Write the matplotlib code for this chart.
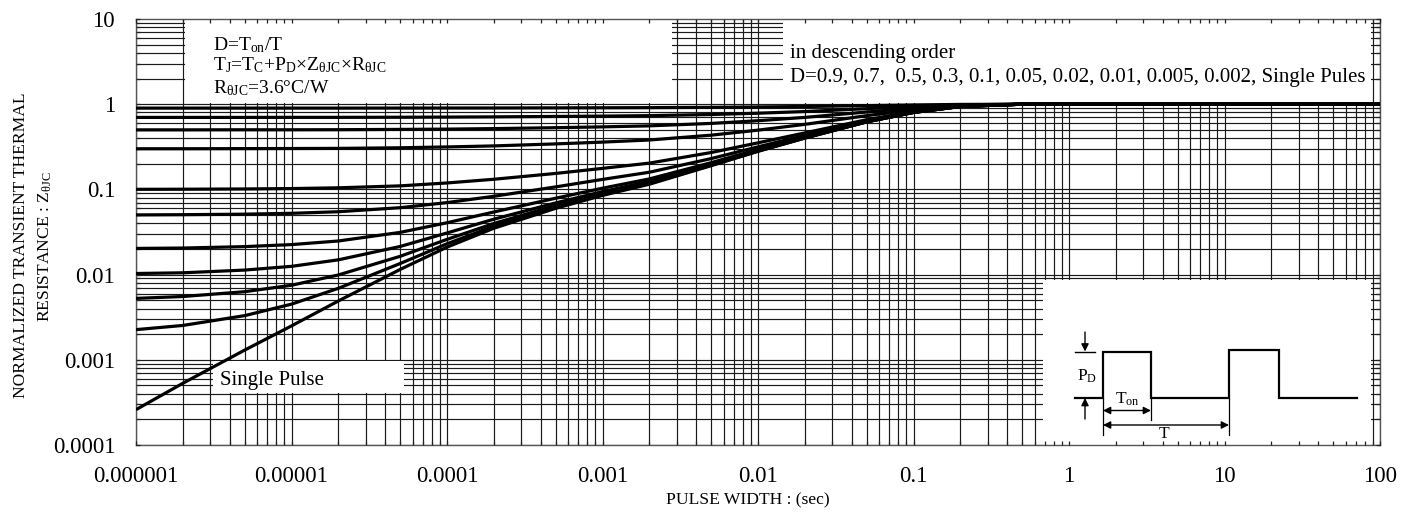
import matplotlib
matplotlib.use("Agg")
import matplotlib.pyplot as plt
from matplotlib.patches import Rectangle
from matplotlib.ticker import FixedLocator, FixedFormatter, NullFormatter

plt.rcParams['font.family'] = ['Liberation Serif', 'DejaVu Serif']
plt.rcParams['mathtext.fontset'] = 'custom'
plt.rcParams['mathtext.rm'] = 'Liberation Serif'
plt.rcParams['mathtext.it'] = 'Liberation Serif:italic'
plt.rcParams['mathtext.bf'] = 'Liberation Serif:bold'

# ---- data -------------------------------------------------------------
pulse_width = [1e-6, 2e-6, 5e-6, 1e-5, 2e-5, 5e-5, 1e-4, 2e-4, 5e-4, 1e-3,
               2e-3, 5e-3, 1e-2, 2e-2, 5e-2, 0.1, 0.2, 0.5, 1, 10, 100]

z_d090 = [0.900, 0.900, 0.900, 0.900, 0.900, 0.901, 0.902, 0.903, 0.906, 0.908,
          0.911, 0.919, 0.928, 0.940, 0.962, 0.980, 0.994, 1.0, 1.0, 1.0, 1.0]
z_d070 = [0.700, 0.700, 0.700, 0.701, 0.701, 0.703, 0.706, 0.710, 0.718, 0.725,
          0.734, 0.757, 0.784, 0.820, 0.886, 0.940, 0.982, 1.0, 1.0, 1.0, 1.0]
z_d050 = [0.500, 0.500, 0.501, 0.501, 0.502, 0.506, 0.510, 0.517, 0.530, 0.542,
          0.557, 0.595, 0.640, 0.700, 0.810, 0.900, 0.970, 1.0, 1.0, 1.0, 1.0]
z_d030 = [0.300, 0.300, 0.301, 0.302, 0.303, 0.308, 0.315, 0.324, 0.342, 0.359,
          0.380, 0.433, 0.496, 0.580, 0.734, 0.860, 0.958, 1.0, 1.0, 1.0, 1.0]
z_d010 = [0.1002, 0.1005, 0.1012, 0.1023, 0.1044, 0.110, 0.119, 0.1315, 0.154, 0.1765,
          0.2035, 0.271, 0.352, 0.460, 0.658, 0.820, 0.946, 1.0, 1.0, 1.0, 1.0]
z_d005 = [0.0502, 0.0505, 0.0512, 0.0524, 0.0547, 0.061, 0.070, 0.083, 0.107, 0.131,
          0.159, 0.230, 0.316, 0.430, 0.639, 0.810, 0.943, 1.0, 1.0, 1.0, 1.0]
z_d002 = [0.0203, 0.0205, 0.0213, 0.0225, 0.0248, 0.0313, 0.0406, 0.0543, 0.0788, 0.1033,
          0.1327, 0.206, 0.294, 0.412, 0.628, 0.804, 0.941, 1.0, 1.0, 1.0, 1.0]
z_d001 = [0.0103, 0.0105, 0.0113, 0.0125, 0.0149, 0.0214, 0.0308, 0.0447, 0.0694, 0.0942,
          0.1239, 0.198, 0.287, 0.406, 0.624, 0.802, 0.940, 1.0, 1.0, 1.0, 1.0]
z_d0005 = [0.00526, 0.00553, 0.0063, 0.0075, 0.0099, 0.0164, 0.0259, 0.0398, 0.0647, 0.0896,
           0.1194, 0.194, 0.284, 0.403, 0.622, 0.801, 0.940, 1.0, 1.0, 1.0, 1.0]
z_d0002 = [0.00226, 0.00253, 0.0033, 0.0045, 0.0069, 0.0135, 0.0230, 0.0370, 0.0620, 0.0870,
           0.1170, 0.192, 0.281, 0.401, 0.621, 0.800, 0.940, 1.0, 1.0, 1.0, 1.0]
z_single = [0.00026, 0.00053, 0.0013, 0.0025, 0.0049, 0.0115, 0.021, 0.035, 0.060, 0.085,
            0.115, 0.190, 0.280, 0.400, 0.620, 0.800, 0.940, 1.0, 1.0, 1.0, 1.0]

curves = [z_d090, z_d070, z_d050, z_d030, z_d010, z_d005,
          z_d002, z_d001, z_d0005, z_d0002, z_single]

x_ticks = [1e-6, 1e-5, 1e-4, 1e-3, 1e-2, 1e-1, 1, 10, 100]
x_tick_labels = ['0.000001', '0.00001', '0.0001', '0.001', '0.01', '0.1', '1', '10', '100']
y_ticks = [1e-4, 1e-3, 1e-2, 1e-1, 1, 10]
y_tick_labels = ['0.0001', '0.001', '0.01', '0.1', '1', '10']

# ---- figure -----------------------------------------------------------
W, H = 1416, 527
fig = plt.figure(figsize=(W / 100, H / 100), dpi=100)
ax = fig.add_axes([136 / W, 1 - 445 / H, (1380 - 136) / W, (445 - 19) / H])
ax.set_xscale('log')
ax.set_yscale('log')
ax.set_xlim(1e-6, 100)
ax.set_ylim(1e-4, 10)

# log grid (1..9 per decade)
grid_kw = dict(color='#1a1a1a', lw=0.85, zorder=0.5)
for e in range(-6, 2):
    for m in range(1, 10):
        ax.axvline(m * 10.0 ** e, **grid_kw)
ax.axvline(100, **grid_kw)
for e in range(-4, 1):
    for m in range(1, 10):
        ax.axhline(m * 10.0 ** e, **grid_kw)

# blank panels holding the notes
box_kw = dict(facecolor='white', edgecolor='none', zorder=1)
ax.add_patch(Rectangle((2.06e-6, 1.035), 2.8e-3 - 2.06e-6, 10 - 1.035, **box_kw))
ax.add_patch(Rectangle((1.45e-2, 1.035), 88 - 1.45e-2, 10 - 1.035, **box_kw))
ax.add_patch(Rectangle((0.68, 1e-4), 88 - 0.68, 0.00865 - 1e-4, **box_kw))
ax.add_patch(Rectangle((3.13e-6, 0.00041), 5.3e-5 - 3.13e-6, 0.00098 - 0.00041, **box_kw))

for z in curves:
    ax.plot(pulse_width, z, color='black', lw=2.3, solid_joinstyle='round',
            solid_capstyle='butt', zorder=3)

ax.set_axisbelow(False)
ax.xaxis.set_major_locator(FixedLocator(x_ticks))
ax.xaxis.set_major_formatter(FixedFormatter(x_tick_labels))
ax.yaxis.set_major_locator(FixedLocator(y_ticks))
ax.yaxis.set_major_formatter(FixedFormatter(y_tick_labels))
ax.xaxis.set_minor_formatter(NullFormatter())
ax.yaxis.set_minor_formatter(NullFormatter())
ax.tick_params(which='both', direction='in', top=True, right=True,
               length=3, width=0.9, color='#222222')
ax.tick_params(which='major', labelsize=16.5, pad=15)
for s in ax.spines.values():
    s.set_color('#555555')
    s.set_linewidth(1.0)

# notes
ax.text(3.13e-6, 4.33, r'D=T$_{\mathrm{on}}$/T', fontsize=14, zorder=4)
ax.text(3.13e-6, 2.47,
        r'T$_{\mathrm{J}}$=T$_{\mathrm{C}}$+P$_{\mathrm{D}}$×Z$_{\mathrm{θJC}}$×R$_{\mathrm{θJC}}$',
        fontsize=14, zorder=4)
ax.text(3.13e-6, 1.34, r'R$_{\mathrm{θJC}}$=3.6°C/W', fontsize=14, zorder=4)
ax.text(1.61e-2, 3.49, 'in descending order', fontsize=15, zorder=4)
ax.text(1.61e-2, 1.84,
        'D=0.9, 0.7,  0.5, 0.3, 0.1, 0.05, 0.02, 0.01, 0.005, 0.002, Single Pules',
        fontsize=15, zorder=4)
ax.text(3.47e-6, 0.000506, 'Single Pulse', fontsize=15, zorder=4)

# axis titles
fig.text(21 / W, 1 - 245 / H, 'NORMALIZED TRANSIENT THERMAL', rotation=90,
         ha='center', va='center', fontsize=12.6)
fig.text(45 / W, 1 - 247 / H, r'RESISTANCE : Z$_{\mathrm{θJC}}$', rotation=90,
         ha='center', va='center', fontsize=12.6)
fig.text(748 / W, 1 - 500 / H, 'PULSE WIDTH : (sec)', ha='center', va='center',
         fontsize=12.6)

# duty-cycle sketch
x0, x1, y0, y1 = 1043, 1373, 280, 445
axd = fig.add_axes([x0 / W, 1 - y1 / H, (x1 - x0) / W, (y1 - y0) / H])
axd.set_xlim(x0 - 1103, x1 - 1103)
axd.set_ylim(398 - y1, 398 - y0)
axd.axis('off')
axd.patch.set_alpha(0)

wave_u = [-28, 0, 0, 48, 48, 126, 126, 176, 176, 254]
wave_v = [0, 0, 46.5, 46.5, 0, 0, 48, 48, 0, 0]
axd.plot(wave_u, wave_v, color='black', lw=1.6, solid_joinstyle='miter')
axd.plot([-28, -8], [46.5, 46.5], color='black', lw=1.0)
arr = dict(arrowstyle='-|>', color='black', lw=1.0, mutation_scale=11,
           shrinkA=0, shrinkB=0)
axd.annotate('', xy=(-18, 46.5), xytext=(-18, 66), arrowprops=arr)
axd.annotate('', xy=(-18, 0), xytext=(-18, -21), arrowprops=arr)
axd.text(-16, 22, r'P$_{\mathrm{D}}$', fontsize=12.5, ha='center', va='center')
axd.plot([0, 0], [0, -37], color='black', lw=0.9)
axd.plot([48, 48], [0, -22], color='black', lw=0.9)
axd.plot([126, 126], [0, -37], color='black', lw=0.9)
darr = dict(arrowstyle='<|-|>', color='black', lw=1.0, mutation_scale=11,
            shrinkA=0, shrinkB=0)
axd.annotate('', xy=(0, -12.5), xytext=(48, -12.5), arrowprops=darr)
axd.annotate('', xy=(0, -27), xytext=(126, -27), arrowprops=darr)
axd.text(24, -1, r'T$_{\mathrm{on}}$', fontsize=12.5, ha='center', va='center')
axd.text(61, -36, 'T', fontsize=12.5, ha='center', va='center')

fig.savefig('out.png', dpi=100)
